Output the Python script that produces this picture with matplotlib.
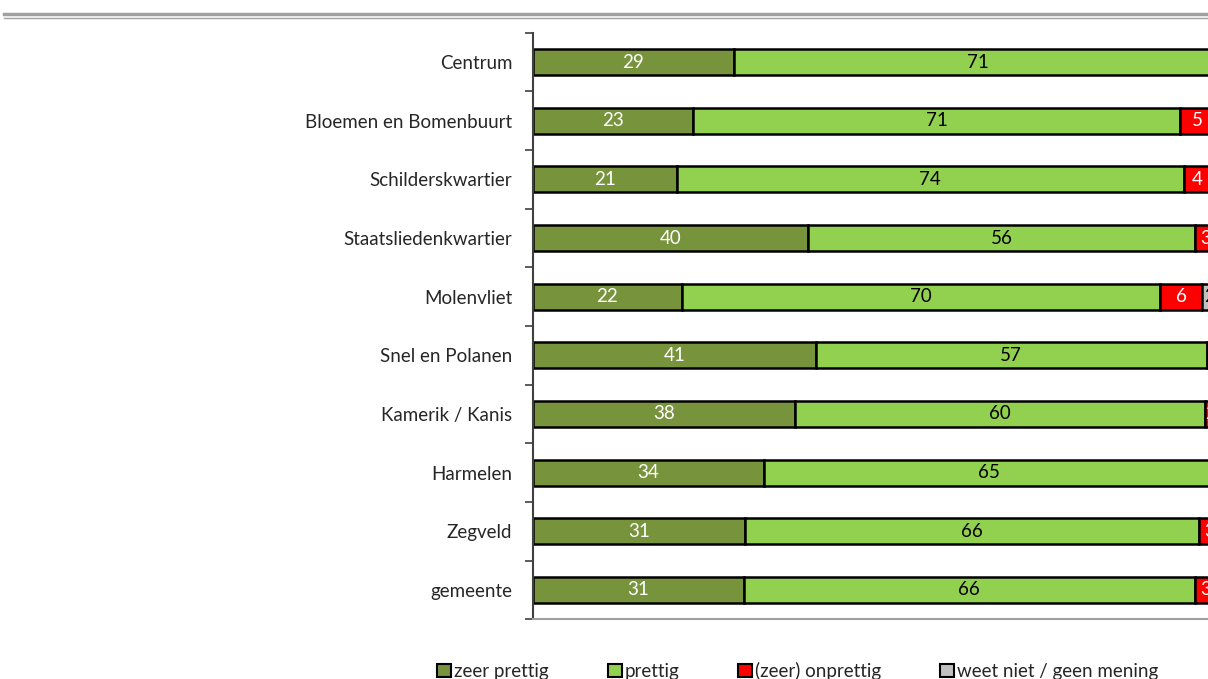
import matplotlib
matplotlib.use("Agg")
import matplotlib.pyplot as plt
from matplotlib.patches import Patch
from matplotlib.lines import Line2D
import numpy as np

categories = ["Centrum", "Bloemen en Bomenbuurt", "Schilderskwartier",
              "Staatsliedenkwartier", "Molenvliet", "Snel en Polanen",
              "Kamerik / Kanis", "Harmelen", "Zegveld", "gemeente"]
zeer_prettig = [29.2, 23.3, 20.9, 40.0, 21.6, 41.1, 38.1, 33.6, 30.8, 30.6]
prettig = [70.8, 70.8, 73.7, 56.2, 69.6, 56.8, 59.6, 65.2, 66.0, 65.6]
onprettig = [0.0, 5.0, 4.0, 3.0, 6.0, 1.2, 1.5, 0.6, 3.2, 3.2]
weet_niet = [0.0, 0.9, 1.4, 0.8, 2.4, 0.9, 0.8, 0.6, 0.0, 0.6]
series_names = ["zeer prettig", "prettig", "(zeer) onprettig", "weet niet / geen mening"]

colors = ["#77933C", "#92D050", "#FF0000", "#C0C0C0"]
text_colors = ["white", "black", "white", "black"]

plt.rcParams['font.family'] = ['Lato', 'DejaVu Sans']

W, H = 1208, 679
fig = plt.figure(figsize=(W / 100, H / 100), dpi=100)
left_px, top_px, bottom_px = 533, 32.7, 619.3
width_px = 688
ax = fig.add_axes([left_px / W, 1 - bottom_px / H, width_px / W, (bottom_px - top_px) / H])

y = np.arange(len(categories))
series = [zeer_prettig, prettig, onprettig, weet_niet]
lefts = np.zeros(len(categories))
for vals, col, tc in zip(series, colors, text_colors):
    vals = np.array(vals, dtype=float)
    ax.barh(y, vals, left=lefts, height=0.44, color=col, edgecolor="black",
            linewidth=1.8, zorder=2)
    for yi, (l, v) in enumerate(zip(lefts, vals)):
        if v >= 1.5:
            ax.text(l + v / 2, yi, f"{v:.0f}", ha="center", va="center",
                    color=tc, fontsize=13.5, zorder=3, clip_on=True)
    lefts += vals

ax.set_xlim(0, 100)
ax.set_ylim(len(categories) - 0.5, -0.5)
ax.set_yticks(y)
ax.set_yticklabels(categories, fontsize=13.5, color="#262626")
ax.tick_params(axis="y", which="major", length=0, pad=15)
ax.set_yticks(np.arange(-0.5, len(categories), 1), minor=True)
ax.tick_params(axis="y", which="minor", length=6, width=1.2, color="#404040")
ax.set_xticks([])
for s in ["top", "right"]:
    ax.spines[s].set_visible(False)
ax.spines["left"].set_color("#404040")
ax.spines["left"].set_linewidth(1.5)
ax.spines["bottom"].set_color("#A0A0A0")
ax.spines["bottom"].set_linewidth(1.5)

# top double rule
fig.add_artist(Line2D([4 / W, 1], [1 - 14 / H, 1 - 14 / H], color="#A0A0A0", lw=2.5,
                      transform=fig.transFigure))
fig.add_artist(Line2D([4 / W, 1], [1 - 17.5 / H, 1 - 17.5 / H], color="#A0A0A0", lw=1.0,
                      transform=fig.transFigure))

handles = [Patch(facecolor=c, edgecolor="black", linewidth=1.5) for c in colors]
leg = fig.legend(handles, series_names, loc="center left", ncol=4,
                 bbox_to_anchor=(437 / W, 1 - 671 / H), frameon=False,
                 fontsize=13.5, handlelength=0.75, handleheight=0.75,
                 handletextpad=0.15, columnspacing=3.15, borderaxespad=0, borderpad=0)
for t in leg.get_texts():
    t.set_color("#262626")

fig.savefig("out.png", dpi=100)
